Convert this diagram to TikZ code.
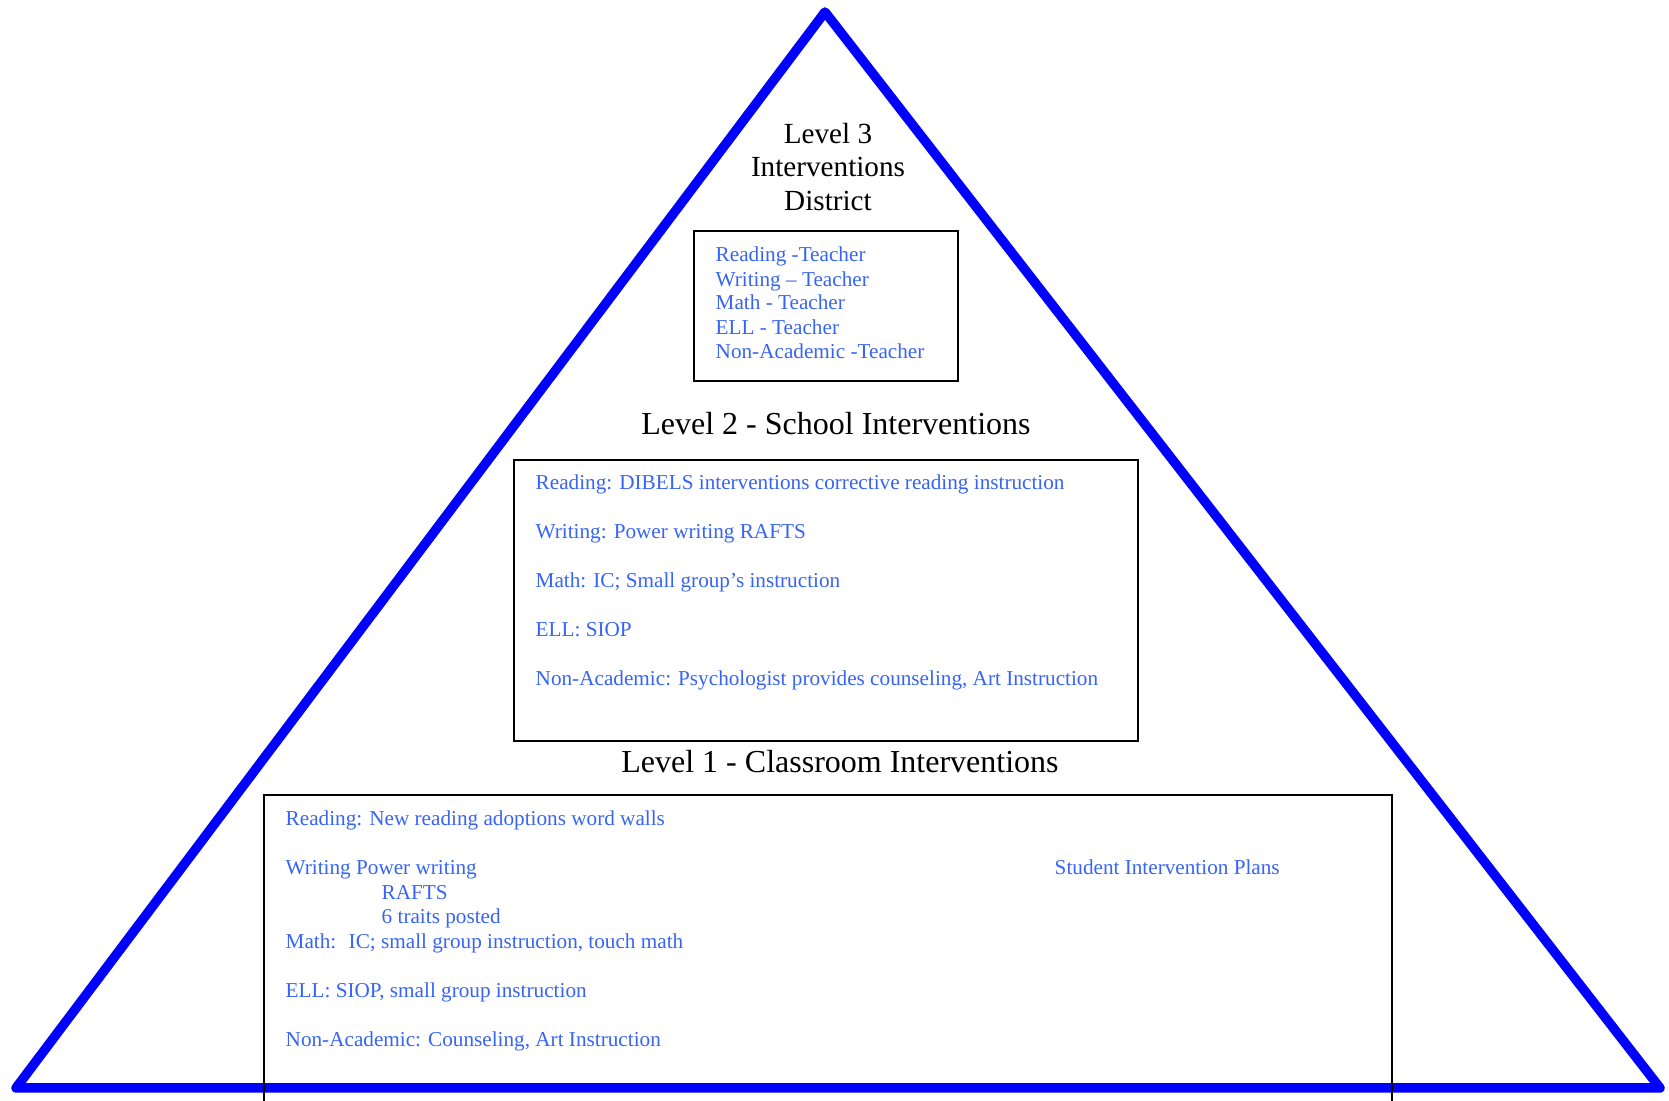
\documentclass[tikz,border=0pt]{standalone}
\usepackage{fontspec}
\setmainfont{Liberation Serif}
\definecolor{itemblue}{RGB}{55,100,245}
\tikzset{
  title/.style={font=\fontsize{8.3}{9.5}\selectfont, align=center, inner sep=0},
  bigtitle/.style={title, font=\fontsize{9.1}{10.5}\selectfont},
  item/.style={font=\fontsize{6.03}{7}\selectfont, text=itemblue, anchor=west, inner sep=0, text height=0.7em, text depth=0.25em},
  boxline/.style={draw=black, line width=0.8pt},
}
\begin{document}
\begin{tikzpicture}[x=0.01cm, y=-0.01cm]
\useasboundingbox (0,0) rectangle (1669,1101);
\draw [draw=blue, line width=2.7pt, line join=round] (825,12) coordinate (apex) -- (1660,1088) coordinate (right) -- (16,1088) coordinate (left) -- cycle;
%
\node [title] (l3) at (828,167) {Level 3\\Interventions\\District};
\draw [boxline] (694,231) rectangle (958,381);
\foreach \y/\t [count=\i] in {254/Reading -Teacher, 279/Writing -- Teacher, 302/Math - Teacher, 327/ELL - Teacher, 351/Non-Academic -Teacher}
  \node [item] (t3-\i) at (715,\y) {\t};
%
\node [bigtitle] (l2) at (836,424) {Level 2 - School Interventions};
\draw [boxline] (514,460) rectangle (1138,741);
\foreach \y/\t [count=\i] in {482/Reading: DIBELS interventions corrective reading instruction, 531/Writing: Power writing RAFTS, 580/Math: IC; Small group’s instruction, 629/ELL: SIOP, 678/{Non-Academic: Psychologist provides counseling, Art Instruction}}
  \node [item] (t2-\i) at (535,\y) {\t};
%
\node [bigtitle] (l1) at (840,762) {Level 1 - Classroom Interventions};
\draw [boxline] (264,1101) -- (264,795) -- (1392,795) -- (1392,1101);
\foreach \x/\y/\t [count=\i] in {285/818/Reading: New reading adoptions word walls, 285/867/Writing Power writing, 381/892/RAFTS, 381/916/6 traits posted, 285/941/{Math:~ IC; small group instruction, touch math}, 285/990/{ELL: SIOP, small group instruction}, 285/1039/{Non-Academic: Counseling, Art Instruction}}
  \node [item] (t1-\i) at (\x,\y) {\t};
\node [item] (plans) at (1054,867) {Student Intervention Plans};
\end{tikzpicture}
\end{document}
